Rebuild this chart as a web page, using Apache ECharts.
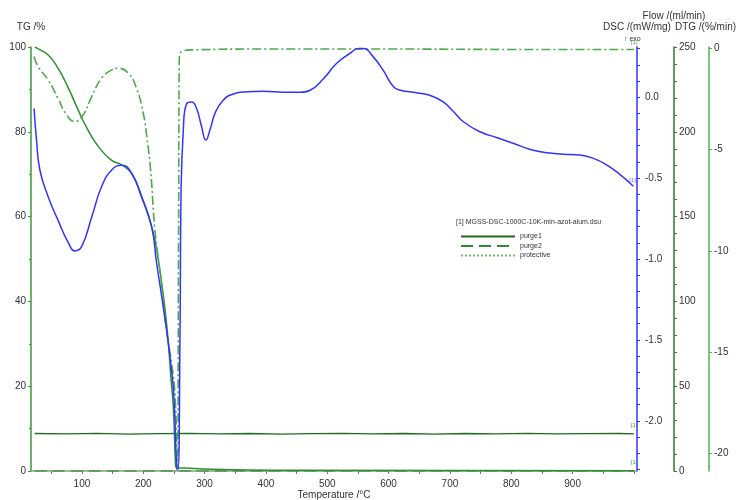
<!DOCTYPE html>
<html>
<head>
<meta charset="utf-8">
<script src="https://cdn.jsdelivr.net/npm/echarts@6/dist/echarts.min.js"></script>
<style>
  html, body { margin: 0; padding: 0; background: #fff; }
  #chart { width: 737px; height: 500px; }
</style>
</head>
<body>
<div id="chart"></div>
<script>
// --- data ---
// TG /% (left axis)
const tgTemp = [23, 26, 45, 61, 78, 94, 110, 127, 148, 165, 181, 197, 211, 219, 227, 235, 241, 245, 249, 252.5, 254, 270, 300, 350, 450, 1000];
const tgVal  = [100, 99.8, 98.1, 95, 90.3, 85.1, 80.4, 76.5, 73.3, 72.2, 70.2, 65, 59, 54.5, 47.4, 38.8, 30.2, 22.2, 15.2, 2, 0.8, 0.7, 0.5, 0.3, 0.15, 0.05];

// DSC /(mW/mg)
const dscTemp = [22, 26, 31.5, 45, 61, 78, 88.6, 99.5, 116, 132, 148.5, 165, 181, 197, 213.6, 221.6, 230, 238, 244.6, 250, 254.5,
  256.6, 260, 261.5, 265.3, 270.8, 279, 287, 295, 302, 309, 317, 330, 347, 369, 396, 428, 456, 472, 494, 515, 537, 551, 559,
  575, 591, 608, 619, 646, 668, 689, 706, 722, 749, 776, 804, 831, 858, 885, 912, 934, 956, 978, 999];
const dscVal = [-0.07, -0.265, -0.45, -0.615, -0.76, -0.9, -0.95, -0.924, -0.74, -0.554, -0.45, -0.42, -0.47, -0.615, -0.8, -1.02, -1.23, -1.44, -1.64, -1.85, -2.29,
  -2.3, -1.44, -0.636, -0.204, -0.04, -0.03, -0.07, -0.18, -0.265, -0.2, -0.1, -0.02, 0.02, 0.033, 0.037, 0.031, 0.03, 0.043, 0.115, 0.208, 0.27, 0.3, 0.3,
  0.249, 0.167, 0.064, 0.043, 0.027, 0.01, -0.029, -0.09, -0.152, -0.214, -0.249, -0.286, -0.323, -0.344, -0.352, -0.358, -0.378, -0.42, -0.48, -0.55];

// DTG /(%/min)
const dtgTemp = [22, 28.7, 45, 61, 75, 88.6, 102, 116, 132, 148.5, 159, 175.5, 189, 200, 206, 212, 219, 227, 238, 246, 252, 255.5,
  257.5, 258.7, 265, 281, 400, 600, 800, 1000];
const dtgVal = [-0.4, -0.9, -1.56, -2.46, -3.28, -3.61, -3.28, -2.38, -1.47, -1.06, -0.98, -1.22, -1.97, -3.2, -4.4, -6.0, -8.96, -10.94, -13.9, -15.5, -17.2, -20.8,
  -10, -0.6, -0.12, -0.07, -0.03, -0.03, -0.05, -0.05];

// Flow /(ml/min)
const flowTemp = [23, 75, 125, 175, 225, 275, 325, 375, 425, 475, 525, 575, 625, 675, 725, 775, 825, 875, 925, 975, 1000];
const purge1Val = [22.1, 21.9, 22.2, 21.8, 22.0, 22.2, 21.9, 22.1, 21.8, 22.0, 22.2, 21.9, 22.1, 21.8, 22.1, 21.9, 22.2, 21.9, 22.0, 22.1, 21.9];
const purge2Val = [0, 0, 0, 0, 0, 0, 0, 0, 0, 0, 0, 0, 0, 0, 0, 0, 0, 0, 0, 0, 0];
const protectiveVal = [0, 0, 0, 0, 0, 0, 0, 0, 0, 0, 0, 0, 0, 0, 0, 0, 0, 0, 0, 0, 0];

// axis ticks / labels
const tempLabels = [100, 200, 300, 400, 500, 600, 700, 800, 900];
const tempTicks = [50, 100, 150, 200, 250, 300, 350, 400, 450, 500, 550, 600, 650, 700, 750, 800, 850, 900, 950, 1000];
const dscLabels = [-2.0, -1.5, -1.0, -0.5, 0.0];
const dscTicks = [-2.3, -2.2, -2.1, -2.0, -1.9, -1.8, -1.7, -1.6, -1.5, -1.4, -1.3, -1.2, -1.1, -1.0, -0.9, -0.8, -0.7, -0.6, -0.5, -0.4, -0.3, -0.2, -0.1, 0.0, 0.1, 0.2, 0.3];
const dtgLabels = [0, -5, -10, -15, -20];

const pairs = (xs, ys) => xs.map((x, i) => [x, ys[i]]);

const chart = echarts.init(document.getElementById('chart'));
const font = 'Liberation Sans, Arial, sans-serif';
const txt = '#333';

const option = {
  animation: false,
  textStyle: { fontFamily: font },
  grid: { left: 31, right: 100, top: 47, bottom: 29, containLabel: false, outerBoundsMode: 'none' },
  xAxis: {
    type: 'value', min: 17, max: 1005,
    name: 'Temperature /°C', nameLocation: 'middle', nameGap: 19, nameMoveOverlap: false,
    nameTextStyle: { fontSize: 10, color: txt, fontFamily: font },
    axisLine: { lineStyle: { color: '#999', width: 1.5 } },
    axisTick: { show: true, length: 3, customValues: tempTicks, lineStyle: { color: '#777' } },
    axisLabel: { customValues: tempLabels, fontSize: 10, color: txt, margin: 8 },
    splitLine: { show: false }
  },
  yAxis: [
    { // TG
      type: 'value', position: 'left', min: 0, max: 100, interval: 20,
      name: 'TG /%', nameLocation: 'end', nameGap: 15,
      nameTextStyle: { fontSize: 10, color: txt },
      axisLine: { show: true, lineStyle: { color: '#3a9a3a', width: 1.5 } },
      axisTick: { show: true, length: 3 },
      minorTick: { show: true, splitNumber: 2, length: 2, lineStyle: { color: '#3a9a3a' } },
      axisLabel: { fontSize: 10, color: txt, margin: 5 },
      splitLine: { show: false }
    },
    { // DSC
      type: 'value', position: 'right', offset: 0, min: -2.31, max: 0.31,
      name: 'DSC /(mW/mg)', nameLocation: 'end', nameGap: 15,
      nameTextStyle: { fontSize: 10, color: txt },
      axisLine: { show: true, lineStyle: { color: '#3333ff', width: 1.5 } },
      axisTick: { show: true, length: 3, customValues: dscTicks },
      axisLabel: { customValues: dscLabels, fontSize: 10, color: txt, margin: 8, formatter: v => v.toFixed(1) },
      splitLine: { show: false }
    },
    { // Flow
      type: 'value', position: 'right', offset: 37, min: 0, max: 250, interval: 50,
      name: 'Flow /(ml/min)', nameLocation: 'end', nameGap: 26,
      nameTextStyle: { fontSize: 10, color: txt },
      axisLine: { show: true, lineStyle: { color: '#2d7a2d', width: 1.5 } },
      axisTick: { show: true, length: 3 },
      minorTick: { show: true, splitNumber: 5, length: 3, lineStyle: { color: '#2d7a2d' } },
      axisLabel: { fontSize: 10, color: txt, margin: 5 },
      splitLine: { show: false }
    },
    { // DTG
      type: 'value', position: 'right', offset: 72, min: -20.86, max: 0.07,
      name: 'DTG /(%/min)', nameLocation: 'end', nameGap: 15,
      nameTextStyle: { fontSize: 10, color: txt, padding: [0, 7, 0, 0] },
      axisLine: { show: true, lineStyle: { color: '#55b055', width: 1.5 } },
      axisTick: { show: true, length: 3, customValues: dtgLabels },
      axisLabel: { customValues: dtgLabels, fontSize: 10, color: txt, margin: 5 },
      splitLine: { show: false }
    }
  ],
  legend: {
    data: ['purge1', 'purge2', 'protective'],
    orient: 'vertical', left: 455, top: 228,
    itemWidth: 54, itemHeight: 6, itemGap: 2.5,
    itemStyle: { opacity: 0, borderWidth: 0 },
    textStyle: { fontSize: 7, color: txt }
  },
  graphic: [
    { type: 'text', left: 456, top: 219, style: { text: '[1] MGSS-DSC-1000C-10K-min-azot-alum.dsu', fontSize: 7, fill: txt, fontFamily: font } },
    { type: 'text', left: 624, top: 36, style: { text: '↑ exo', fontSize: 7, fill: txt, fontFamily: font } }
  ],
  series: [
    {
      name: 'purge1', type: 'line', yAxisIndex: 2, data: pairs(flowTemp, purge1Val),
      symbol: 'none', lineStyle: { color: '#1f6b1f', width: 1.3 }, itemStyle: { color: '#1f6b1f' },
      endLabel: { show: true, formatter: '[1]', fontSize: 6, color: '#4a9a4a', offset: [-11, -9] }
    },
    {
      name: 'purge2', type: 'line', yAxisIndex: 2, data: pairs(flowTemp, purge2Val),
      symbol: 'none', lineStyle: { color: '#2e8b2e', width: 1.6, type: [12, 6] }, itemStyle: { color: '#2e8b2e' },
      endLabel: { show: true, formatter: '[1]', fontSize: 6, color: '#4a9a4a', offset: [-11, -9] }
    },
    {
      name: 'protective', type: 'line', yAxisIndex: 2, data: pairs(flowTemp, protectiveVal),
      symbol: 'none', lineStyle: { color: '#6cc06c', width: 1, type: [2, 2] }, itemStyle: { color: '#6cc06c' }
    },
    {
      name: 'TG', type: 'line', yAxisIndex: 0, data: pairs(tgTemp, tgVal),
      symbol: 'none', smooth: 0.5,
      lineStyle: { color: '#2f8f2f', width: 1.5 }
    },
    {
      name: 'DTG', type: 'line', yAxisIndex: 3, data: pairs(dtgTemp, dtgVal),
      symbol: 'none', smooth: 0.5,
      lineStyle: { color: '#4daa4d', width: 1.6, type: [9, 3, 2, 3] },
      endLabel: { show: true, formatter: '[1]', fontSize: 6, color: '#4a9a4a', offset: [-11, -7] }
    },
    {
      name: 'DSC', type: 'line', yAxisIndex: 1, data: pairs(dscTemp, dscVal),
      symbol: 'none', smooth: 0.5,
      lineStyle: { color: '#3333ff', width: 1.5 },
      endLabel: { show: true, formatter: '[1]', fontSize: 6, color: '#6a6aff', offset: [-12, -6] }
    }
  ]
};

chart.setOption(option);
</script>
</body>
</html>
